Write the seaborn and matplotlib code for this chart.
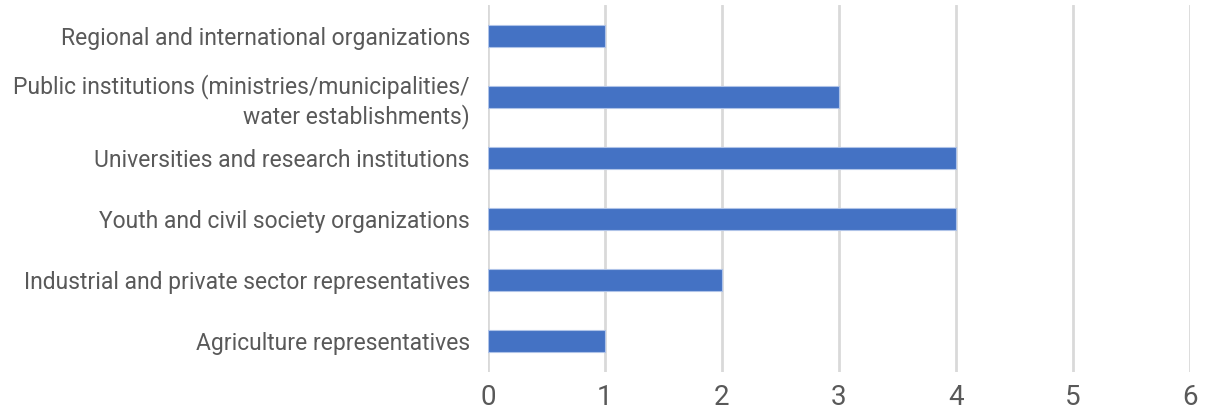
import matplotlib
matplotlib.use("Agg")
import matplotlib.pyplot as plt
import seaborn as sns
import pandas as pd

categories = [
    "Regional and international organizations",
    "Public institutions (ministries/municipalities/\nwater establishments)",
    "Universities and research institutions",
    "Youth and civil society organizations",
    "Industrial and private sector representatives",
    "Agriculture representatives",
]
values = [1, 3, 4, 4, 2, 1]
xticks = [0, 1, 2, 3, 4, 5, 6]

sns.set_theme(style="white")
plt.rcParams['font.family'] = ['Roboto', 'DejaVu Sans']

df = pd.DataFrame({"category": categories, "value": values})

fig = plt.figure(figsize=(12.12, 4.11), dpi=100)
ax = fig.add_axes([0.4026, 0.0949, 0.9818 - 0.4026, 0.988 - 0.0949])

sns.barplot(data=df, y="category", x="value", orient="h", color="#4472C4",
            saturation=1, width=0.36, edgecolor="#AFC3E8", linewidth=0.8, ax=ax, zorder=3)

ax.set_xlim(0, 6)
ax.set_xticks(xticks)
ax.set_xticklabels([str(t) for t in xticks])
ax.set_ylim(5.5, -0.5)
ax.grid(axis="x", color="#D9D9D9", linewidth=2, zorder=0)
ax.grid(axis="y", visible=False)
ax.set_axisbelow(True)
for s in ax.spines.values():
    s.set_visible(False)
ax.set_xlabel("")
ax.set_ylabel("")
ax.tick_params(axis="y", length=0, pad=13, labelsize=16.5, labelcolor="#595959")
ax.tick_params(axis="x", length=0, pad=9, labelsize=20, labelcolor="#595959")
for lbl in ax.get_yticklabels():
    lbl.set_horizontalalignment("right")
    lbl.set_multialignment("right")
    lbl.set_linespacing(1.25)

fig.savefig("out.png", dpi=100)
